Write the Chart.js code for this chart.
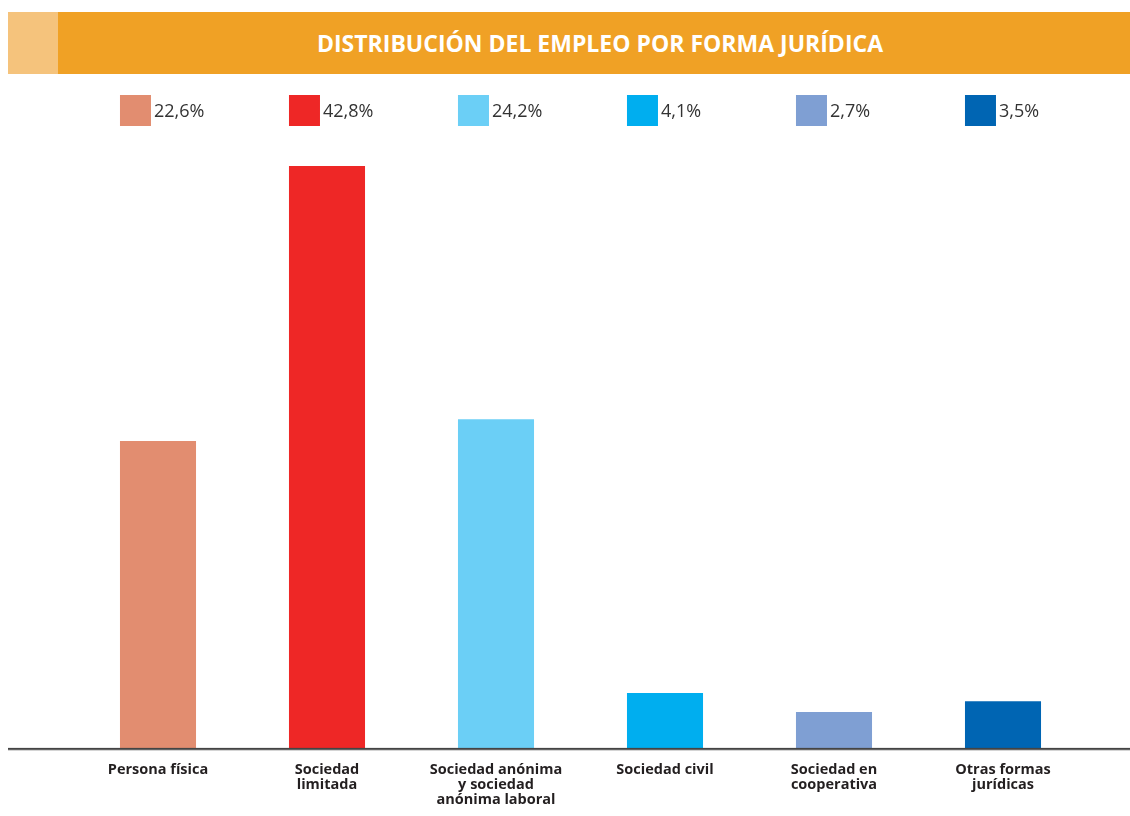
<!DOCTYPE html>
<html>
<head>
<meta charset="utf-8">
<script src="https://cdn.jsdelivr.net/npm/chart.js@4"></script>
<style>
  body { margin: 0; background: #fff; font-family: "Open Sans", sans-serif; overflow: hidden; }
  #wrap { position: relative; width: 1130px; height: 816px; overflow: hidden; }
  #chart { position: absolute; left: 0; top: 0; }
  #titleBar { position: absolute; left: 8px; top: 12px; width: 1122px; height: 62px; background: #f0a125; }
  #titleBar .tab { position: absolute; left: 0; top: 0; width: 50px; height: 62px; background: #f5c37c; }
  #titleBar .txt { position: absolute; left: 0; width: 1184px; top: 0; line-height: 62px; text-align: center;
    color: #fff; font-weight: bold; font-size: 23px; }
</style>
</head>
<body>
<div id="wrap">
  <canvas id="chart" width="1130" height="813"></canvas>
  <div id="titleBar"><div class="tab"></div><div class="txt">DISTRIBUCIÓN DEL EMPLEO POR FORMA JURÍDICA</div></div>
</div>
<script>
const categories = [
  "Persona física",
  ["Sociedad", "limitada"],
  ["Sociedad anónima", "y sociedad", "anónima laboral"],
  "Sociedad civil",
  ["Sociedad en", "cooperativa"],
  ["Otras formas", "jurídicas"],
];
const shares = [22.6, 42.8, 24.2, 4.1, 2.7, 3.5];
const shareLabels = ["22,6%", "42,8%", "24,2%", "4,1%", "2,7%", "3,5%"];
const barColors = ["#e28d70", "#ee2726", "#6bcff6", "#00aeef", "#7f9fd3", "#0065b3"];

// legend boxes above each bar, aligned with the bar's left edge
const topLegend = {
  id: "topLegend",
  afterDraw(chart) {
    const ctx = chart.ctx;
    const bars = chart.getDatasetMeta(0).data;
    ctx.save();
    ctx.font = "18px 'Open Sans'";
    ctx.textBaseline = "middle";
    bars.forEach((bar, i) => {
      const left = bar.x - bar.width / 2;
      ctx.fillStyle = barColors[i];
      ctx.fillRect(left, 95, 31, 31);
      ctx.fillStyle = "#333";
      ctx.fillText(shareLabels[i], left + 34, 112);
    });
    ctx.restore();
  },
};

// baseline runs the whole width of the page
const baseLine = {
  id: "baseLine",
  afterDatasetsDraw(chart) {
    const ctx = chart.ctx;
    const y = chart.chartArea.bottom;
    ctx.save();
    ctx.fillStyle = "#444";
    ctx.fillRect(8, y - 1, 1122, 2);
    ctx.fillStyle = "#cfcfcf";
    ctx.fillRect(8, y + 1, 1122, 1);
    ctx.restore();
  },
};

new Chart(document.getElementById("chart"), {
  type: "bar",
  data: {
    labels: categories,
    datasets: [
      {
        data: shares,
        backgroundColor: barColors,
        barPercentage: 0.45,
        categoryPercentage: 1,
      },
    ],
  },
  options: {
    responsive: false,
    animation: false,
    layout: { padding: { left: 73.5, right: 42.5, top: 136, bottom: 0 } },
    plugins: { legend: { display: false }, tooltip: { enabled: false } },
    scales: {
      x: {
        grid: { display: false },
        border: { display: false },
        ticks: {
          autoSkip: false,
          maxRotation: 0,
          padding: 5,
          color: "#231f20",
          font: { family: "Open Sans", weight: "bold", size: 14.5, lineHeight: 1.06 },
        },
      },
      y: { display: false, min: 0, max: 45 },
    },
  },
  plugins: [topLegend, baseLine],
});
</script>
</body>
</html>
